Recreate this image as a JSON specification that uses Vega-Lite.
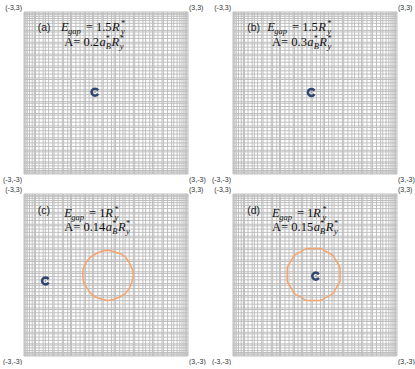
{
  "$schema": "https://vega.github.io/schema/vega-lite/v6.json",
  "background": "white",
  "padding": {"left": 2, "top": 4, "right": 0, "bottom": 0},
  "bounds": "flush",
  "columns": 2,
  "spacing": {"row": 20, "column": 45},
  "config": {"view": {"stroke": null}},
  "datasets": {
    "gx": [{"x":-3},{"x":-2.97},{"x":-2.93},{"x":-2.88},{"x":-2.8},{"x":-2.7},{"x":-2.62},{"x":-2.58},{"x":-2.45},{"x":-2.3},{"x":-2.22},{"x":-2.1},{"x":-1.95},{"x":-1.9},{"x":-1.75},{"x":-1.6},{"x":-1.55},{"x":-1.4},{"x":-1.3},{"x":-1.26},{"x":-1.1},{"x":-0.95},{"x":-0.8},{"x":-0.75},{"x":-0.62},{"x":-0.5},{"x":-0.45},{"x":-0.3},{"x":-0.15},{"x":-0.1},{"x":0.05},{"x":0.2},{"x":0.3},{"x":0.35},{"x":0.5},{"x":0.62},{"x":0.7},{"x":0.85},{"x":1.0},{"x":1.05},{"x":1.2},{"x":1.35},{"x":1.45},{"x":1.6},{"x":1.7},{"x":1.75},{"x":1.9},{"x":2.05},{"x":2.1},{"x":2.25},{"x":2.4},{"x":2.48},{"x":2.6},{"x":2.7},{"x":2.78},{"x":2.85},{"x":2.9},{"x":2.95},{"x":3}],
    "gy": [{"y":-3},{"y":-2.96},{"y":-2.92},{"y":-2.87},{"y":-2.8},{"y":-2.7},{"y":-2.6},{"y":-2.55},{"y":-2.42},{"y":-2.3},{"y":-2.18},{"y":-2.12},{"y":-1.98},{"y":-1.85},{"y":-1.72},{"y":-1.66},{"y":-1.52},{"y":-1.4},{"y":-1.28},{"y":-1.22},{"y":-1.08},{"y":-0.95},{"y":-0.82},{"y":-0.76},{"y":-0.62},{"y":-0.5},{"y":-0.38},{"y":-0.32},{"y":-0.18},{"y":-0.06},{"y":0.06},{"y":0.12},{"y":0.26},{"y":0.38},{"y":0.5},{"y":0.56},{"y":0.7},{"y":0.82},{"y":0.94},{"y":1.0},{"y":1.14},{"y":1.26},{"y":1.38},{"y":1.44},{"y":1.58},{"y":1.7},{"y":1.82},{"y":1.88},{"y":2.02},{"y":2.14},{"y":2.26},{"y":2.32},{"y":2.46},{"y":2.58},{"y":2.68},{"y":2.76},{"y":2.84},{"y":2.9},{"y":2.95},{"y":3}],
    "corners": [{"x":-3,"y":3,"t":"(-3,3)"},{"x":3,"y":3,"t":"(3,3)"},{"x":-3,"y":-3,"t":"(-3,-3)"},{"x":3,"y":-3,"t":"(3,-3)"}],
    "blue": [
      {"panel":"a","i":0,"x":-0.287,"y":0.095},{"panel":"a","i":1,"x":-0.335,"y":0.143},{"panel":"a","i":2,"x":-0.4,"y":0.16},{"panel":"a","i":3,"x":-0.465,"y":0.143},{"panel":"a","i":4,"x":-0.513,"y":0.095},{"panel":"a","i":5,"x":-0.53,"y":0.03},{"panel":"a","i":6,"x":-0.513,"y":-0.035},{"panel":"a","i":7,"x":-0.465,"y":-0.083},{"panel":"a","i":8,"x":-0.4,"y":-0.1},{"panel":"a","i":9,"x":-0.335,"y":-0.083},{"panel":"a","i":10,"x":-0.287,"y":-0.035},
      {"panel":"b","i":0,"x":-0.017,"y":0.085},{"panel":"b","i":1,"x":-0.065,"y":0.133},{"panel":"b","i":2,"x":-0.13,"y":0.15},{"panel":"b","i":3,"x":-0.195,"y":0.133},{"panel":"b","i":4,"x":-0.243,"y":0.085},{"panel":"b","i":5,"x":-0.26,"y":0.02},{"panel":"b","i":6,"x":-0.243,"y":-0.045},{"panel":"b","i":7,"x":-0.195,"y":-0.093},{"panel":"b","i":8,"x":-0.13,"y":-0.11},{"panel":"b","i":9,"x":-0.065,"y":-0.093},{"panel":"b","i":10,"x":-0.017,"y":-0.045},
      {"panel":"c","i":0,"x":-2.097,"y":-0.155},{"panel":"c","i":1,"x":-2.145,"y":-0.107},{"panel":"c","i":2,"x":-2.21,"y":-0.09},{"panel":"c","i":3,"x":-2.275,"y":-0.107},{"panel":"c","i":4,"x":-2.323,"y":-0.155},{"panel":"c","i":5,"x":-2.34,"y":-0.22},{"panel":"c","i":6,"x":-2.323,"y":-0.285},{"panel":"c","i":7,"x":-2.275,"y":-0.333},{"panel":"c","i":8,"x":-2.21,"y":-0.35},{"panel":"c","i":9,"x":-2.145,"y":-0.333},{"panel":"c","i":10,"x":-2.097,"y":-0.285},
      {"panel":"d","i":0,"x":0.143,"y":0.025},{"panel":"d","i":1,"x":0.095,"y":0.073},{"panel":"d","i":2,"x":0.03,"y":0.09},{"panel":"d","i":3,"x":-0.035,"y":0.073},{"panel":"d","i":4,"x":-0.083,"y":0.025},{"panel":"d","i":5,"x":-0.1,"y":-0.04},{"panel":"d","i":6,"x":-0.083,"y":-0.105},{"panel":"d","i":7,"x":-0.035,"y":-0.153},{"panel":"d","i":8,"x":0.03,"y":-0.17},{"panel":"d","i":9,"x":0.095,"y":-0.153},{"panel":"d","i":10,"x":0.143,"y":-0.105}
    ],
    "centers": [{"panel":"a","x":-0.4,"y":0.03},{"panel":"b","x":-0.13,"y":0.02},{"panel":"c","x":-2.21,"y":-0.22},{"panel":"d","x":0.03,"y":-0.04}],
    "orange": [
      {"panel":"c","i":0,"x":1.0,"y":-0.01},{"panel":"c","i":1,"x":0.959,"y":0.228},{"panel":"c","i":2,"x":0.858,"y":0.445},{"panel":"c","i":3,"x":0.728,"y":0.648},{"panel":"c","i":4,"x":0.53,"y":0.787},{"panel":"c","i":5,"x":0.303,"y":0.859},{"panel":"c","i":6,"x":0.07,"y":0.92},{"panel":"c","i":7,"x":-0.168,"y":0.879},{"panel":"c","i":8,"x":-0.385,"y":0.778},{"panel":"c","i":9,"x":-0.588,"y":0.648},{"panel":"c","i":10,"x":-0.727,"y":0.45},{"panel":"c","i":11,"x":-0.838,"y":0.233},{"panel":"c","i":12,"x":-0.85,"y":-0.01},{"panel":"c","i":13,"x":-0.828,"y":-0.251},{"panel":"c","i":14,"x":-0.709,"y":-0.46},{"panel":"c","i":15,"x":-0.58,"y":-0.66},{"panel":"c","i":16,"x":-0.395,"y":-0.815},{"panel":"c","i":17,"x":-0.166,"y":-0.889},{"panel":"c","i":18,"x":0.07,"y":-0.94},{"panel":"c","i":19,"x":0.308,"y":-0.899},{"panel":"c","i":20,"x":0.525,"y":-0.798},{"panel":"c","i":21,"x":0.728,"y":-0.668},{"panel":"c","i":22,"x":0.867,"y":-0.47},{"panel":"c","i":23,"x":0.949,"y":-0.246},{"panel":"c","i":24,"x":1.0,"y":-0.01},
      {"panel":"d","i":0,"x":0.916,"y":0.279},{"panel":"d","i":1,"x":0.657,"y":0.727},{"panel":"d","i":2,"x":0.209,"y":0.986},{"panel":"d","i":3,"x":-0.309,"y":0.986},{"panel":"d","i":4,"x":-0.757,"y":0.727},{"panel":"d","i":5,"x":-1.016,"y":0.279},{"panel":"d","i":6,"x":-1.016,"y":-0.239},{"panel":"d","i":7,"x":-0.757,"y":-0.687},{"panel":"d","i":8,"x":-0.309,"y":-0.946},{"panel":"d","i":9,"x":0.209,"y":-0.946},{"panel":"d","i":10,"x":0.657,"y":-0.687},{"panel":"d","i":11,"x":0.916,"y":-0.239},{"panel":"d","i":12,"x":0.916,"y":0.279}
    ],
    "tlabel": [{"panel":"a","x":-2.5,"y":2.31,"t":"(a)"},{"panel":"b","x":-2.48,"y":2.31,"t":"(b)"},{"panel":"c","x":-2.5,"y":2.26,"t":"(c)"},{"panel":"d","x":-2.48,"y":2.26,"t":"(d)"}],
    "troman": [
      {"panel":"a","x":-0.741,"y":2.31,"t":"= 1.5"},{"panel":"a","x":-1.53,"y":1.74,"t":"A= 0.2"},
      {"panel":"b","x":-0.841,"y":2.31,"t":"= 1.5"},{"panel":"b","x":-1.57,"y":1.74,"t":"A= 0.3"},
      {"panel":"c","x":-0.621,"y":2.16,"t":"= 1"},{"panel":"c","x":-1.53,"y":1.63,"t":"A= 0.14"},
      {"panel":"d","x":-0.661,"y":2.16,"t":"= 1"},{"panel":"d","x":-1.57,"y":1.63,"t":"A= 0.15"}
    ],
    "titalic": [
      {"panel":"a","x":-1.65,"y":2.31,"t":"E"},{"panel":"a","x":0.22,"y":2.31,"t":"R"},{"panel":"a","x":-0.24,"y":1.74,"t":"a"},{"panel":"a","x":0.2,"y":1.74,"t":"R"},
      {"panel":"b","x":-1.75,"y":2.31,"t":"E"},{"panel":"b","x":0.12,"y":2.31,"t":"R"},{"panel":"b","x":-0.28,"y":1.74,"t":"a"},{"panel":"b","x":0.16,"y":1.74,"t":"R"},
      {"panel":"c","x":-1.53,"y":2.16,"t":"E"},{"panel":"c","x":-0.03,"y":2.16,"t":"R"},{"panel":"c","x":-0.005,"y":1.63,"t":"a"},{"panel":"c","x":0.435,"y":1.63,"t":"R"},
      {"panel":"d","x":-1.57,"y":2.16,"t":"E"},{"panel":"d","x":-0.07,"y":2.16,"t":"R"},{"panel":"d","x":-0.045,"y":1.63,"t":"a"},{"panel":"d","x":0.395,"y":1.63,"t":"R"}
    ],
    "tsub": [
      {"panel":"a","x":-1.388,"y":2.31,"t":"gap"},{"panel":"a","x":0.55,"y":2.31,"t":"y"},{"panel":"a","x":-0.01,"y":1.74,"t":"B"},{"panel":"a","x":0.5,"y":1.74,"t":"y"},
      {"panel":"b","x":-1.488,"y":2.31,"t":"gap"},{"panel":"b","x":0.45,"y":2.31,"t":"y"},{"panel":"b","x":-0.05,"y":1.74,"t":"B"},{"panel":"b","x":0.46,"y":1.74,"t":"y"},
      {"panel":"c","x":-1.268,"y":2.16,"t":"gap"},{"panel":"c","x":0.31,"y":2.16,"t":"y"},{"panel":"c","x":0.225,"y":1.63,"t":"B"},{"panel":"c","x":0.735,"y":1.63,"t":"y"},
      {"panel":"d","x":-1.308,"y":2.16,"t":"gap"},{"panel":"d","x":0.27,"y":2.16,"t":"y"},{"panel":"d","x":0.185,"y":1.63,"t":"B"},{"panel":"d","x":0.695,"y":1.63,"t":"y"}
    ],
    "tsup": [
      {"panel":"a","x":0.55,"y":2.31,"t":"*"},{"panel":"a","x":-0.01,"y":1.74,"t":"*"},{"panel":"a","x":0.5,"y":1.74,"t":"*"},
      {"panel":"b","x":0.45,"y":2.31,"t":"*"},{"panel":"b","x":-0.05,"y":1.74,"t":"*"},{"panel":"b","x":0.46,"y":1.74,"t":"*"},
      {"panel":"c","x":0.31,"y":2.16,"t":"*"},{"panel":"c","x":0.225,"y":1.63,"t":"*"},{"panel":"c","x":0.735,"y":1.63,"t":"*"},
      {"panel":"d","x":0.27,"y":2.16,"t":"*"},{"panel":"d","x":0.185,"y":1.63,"t":"*"},{"panel":"d","x":0.695,"y":1.63,"t":"*"}
    ]
  },
  "concat": [
    {"width":164,"height":162,"layer":[
      {"data":{"name":"gx"},"mark":{"type":"rule","color":"#bfbfbf","strokeWidth":1},"encoding":{"x":{"field":"x","type":"quantitative","scale":{"domain":[-3,3],"nice":false},"axis":null}}},
      {"data":{"name":"gy"},"mark":{"type":"rule","color":"#bfbfbf","strokeWidth":1},"encoding":{"y":{"field":"y","type":"quantitative","scale":{"domain":[-3,3],"nice":false},"axis":null}}},
      {"data":{"name":"orange"},"transform":[{"filter":"datum.panel == 'a'"}],"mark":{"type":"line","color":"#f4a46c","strokeWidth":1.5},"encoding":{"x":{"field":"x","type":"quantitative"},"y":{"field":"y","type":"quantitative"},"order":{"field":"i"}}},
      {"data":{"name":"blue"},"transform":[{"filter":"datum.panel == 'a'"}],"mark":{"type":"line","color":"#2f476e","strokeWidth":2.5,"strokeCap":"butt"},"encoding":{"x":{"field":"x","type":"quantitative"},"y":{"field":"y","type":"quantitative"},"order":{"field":"i"}}},
      {"data":{"name":"centers"},"transform":[{"filter":"datum.panel == 'a'"}],"mark":{"type":"point","filled":true,"size":3,"color":"#888888"},"encoding":{"x":{"field":"x","type":"quantitative"},"y":{"field":"y","type":"quantitative"}}},
      {"data":{"name":"corners"},"transform":[{"filter":"datum.x < 0 && datum.y > 0"}],"mark":{"type":"text","align":"right","baseline":"bottom","dx":-2,"dy":-1,"font":"Liberation Sans","fontSize":7,"color":"#333333"},"encoding":{"x":{"field":"x","type":"quantitative"},"y":{"field":"y","type":"quantitative"},"text":{"field":"t"}}},
      {"data":{"name":"corners"},"transform":[{"filter":"datum.x > 0 && datum.y > 0"}],"mark":{"type":"text","align":"left","baseline":"bottom","dx":1,"dy":-1,"font":"Liberation Sans","fontSize":7,"color":"#333333"},"encoding":{"x":{"field":"x","type":"quantitative"},"y":{"field":"y","type":"quantitative"},"text":{"field":"t"}}},
      {"data":{"name":"corners"},"transform":[{"filter":"datum.x < 0 && datum.y < 0"}],"mark":{"type":"text","align":"right","baseline":"top","dx":-2,"dy":2,"font":"Liberation Sans","fontSize":7,"color":"#333333"},"encoding":{"x":{"field":"x","type":"quantitative"},"y":{"field":"y","type":"quantitative"},"text":{"field":"t"}}},
      {"data":{"name":"corners"},"transform":[{"filter":"datum.x > 0 && datum.y < 0"}],"mark":{"type":"text","align":"left","baseline":"top","dx":1,"dy":2,"font":"Liberation Sans","fontSize":7,"color":"#333333"},"encoding":{"x":{"field":"x","type":"quantitative"},"y":{"field":"y","type":"quantitative"},"text":{"field":"t"}}},
      {"data":{"name":"tlabel"},"transform":[{"filter":"datum.panel == 'a'"}],"mark":{"type":"text","align":"left","baseline":"alphabetic","font":"Liberation Sans","fontSize":10.5,"color":"#222222"},"encoding":{"x":{"field":"x","type":"quantitative"},"y":{"field":"y","type":"quantitative"},"text":{"field":"t"}}},
      {"data":{"name":"troman"},"transform":[{"filter":"datum.panel == 'a'"}],"mark":{"type":"text","align":"left","baseline":"alphabetic","font":"Liberation Serif","fontSize":12.5,"color":"#111111"},"encoding":{"x":{"field":"x","type":"quantitative"},"y":{"field":"y","type":"quantitative"},"text":{"field":"t"}}},
      {"data":{"name":"titalic"},"transform":[{"filter":"datum.panel == 'a'"}],"mark":{"type":"text","align":"left","baseline":"alphabetic","font":"Liberation Serif","fontStyle":"italic","fontSize":12.5,"color":"#111111"},"encoding":{"x":{"field":"x","type":"quantitative"},"y":{"field":"y","type":"quantitative"},"text":{"field":"t"}}},
      {"data":{"name":"tsub"},"transform":[{"filter":"datum.panel == 'a'"}],"mark":{"type":"text","align":"left","baseline":"alphabetic","dy":3,"font":"Liberation Serif","fontStyle":"italic","fontSize":8.5,"color":"#111111"},"encoding":{"x":{"field":"x","type":"quantitative"},"y":{"field":"y","type":"quantitative"},"text":{"field":"t"}}},
      {"data":{"name":"tsup"},"transform":[{"filter":"datum.panel == 'a'"}],"mark":{"type":"text","align":"left","baseline":"alphabetic","dy":-5,"font":"Liberation Serif","fontSize":8.5,"color":"#111111"},"encoding":{"x":{"field":"x","type":"quantitative"},"y":{"field":"y","type":"quantitative"},"text":{"field":"t"}}}
    ]},
    {"width":164,"height":162,"layer":[
      {"data":{"name":"gx"},"mark":{"type":"rule","color":"#bfbfbf","strokeWidth":1},"encoding":{"x":{"field":"x","type":"quantitative","scale":{"domain":[-3,3],"nice":false},"axis":null}}},
      {"data":{"name":"gy"},"mark":{"type":"rule","color":"#bfbfbf","strokeWidth":1},"encoding":{"y":{"field":"y","type":"quantitative","scale":{"domain":[-3,3],"nice":false},"axis":null}}},
      {"data":{"name":"orange"},"transform":[{"filter":"datum.panel == 'b'"}],"mark":{"type":"line","color":"#f4a46c","strokeWidth":1.5},"encoding":{"x":{"field":"x","type":"quantitative"},"y":{"field":"y","type":"quantitative"},"order":{"field":"i"}}},
      {"data":{"name":"blue"},"transform":[{"filter":"datum.panel == 'b'"}],"mark":{"type":"line","color":"#2f476e","strokeWidth":2.5,"strokeCap":"butt"},"encoding":{"x":{"field":"x","type":"quantitative"},"y":{"field":"y","type":"quantitative"},"order":{"field":"i"}}},
      {"data":{"name":"centers"},"transform":[{"filter":"datum.panel == 'b'"}],"mark":{"type":"point","filled":true,"size":3,"color":"#888888"},"encoding":{"x":{"field":"x","type":"quantitative"},"y":{"field":"y","type":"quantitative"}}},
      {"data":{"name":"corners"},"transform":[{"filter":"datum.x < 0 && datum.y > 0"}],"mark":{"type":"text","align":"right","baseline":"bottom","dx":-2,"dy":-1,"font":"Liberation Sans","fontSize":7,"color":"#333333"},"encoding":{"x":{"field":"x","type":"quantitative"},"y":{"field":"y","type":"quantitative"},"text":{"field":"t"}}},
      {"data":{"name":"corners"},"transform":[{"filter":"datum.x > 0 && datum.y > 0"}],"mark":{"type":"text","align":"left","baseline":"bottom","dx":1,"dy":-1,"font":"Liberation Sans","fontSize":7,"color":"#333333"},"encoding":{"x":{"field":"x","type":"quantitative"},"y":{"field":"y","type":"quantitative"},"text":{"field":"t"}}},
      {"data":{"name":"corners"},"transform":[{"filter":"datum.x < 0 && datum.y < 0"}],"mark":{"type":"text","align":"right","baseline":"top","dx":-2,"dy":2,"font":"Liberation Sans","fontSize":7,"color":"#333333"},"encoding":{"x":{"field":"x","type":"quantitative"},"y":{"field":"y","type":"quantitative"},"text":{"field":"t"}}},
      {"data":{"name":"corners"},"transform":[{"filter":"datum.x > 0 && datum.y < 0"}],"mark":{"type":"text","align":"left","baseline":"top","dx":1,"dy":2,"font":"Liberation Sans","fontSize":7,"color":"#333333"},"encoding":{"x":{"field":"x","type":"quantitative"},"y":{"field":"y","type":"quantitative"},"text":{"field":"t"}}},
      {"data":{"name":"tlabel"},"transform":[{"filter":"datum.panel == 'b'"}],"mark":{"type":"text","align":"left","baseline":"alphabetic","font":"Liberation Sans","fontSize":10.5,"color":"#222222"},"encoding":{"x":{"field":"x","type":"quantitative"},"y":{"field":"y","type":"quantitative"},"text":{"field":"t"}}},
      {"data":{"name":"troman"},"transform":[{"filter":"datum.panel == 'b'"}],"mark":{"type":"text","align":"left","baseline":"alphabetic","font":"Liberation Serif","fontSize":12.5,"color":"#111111"},"encoding":{"x":{"field":"x","type":"quantitative"},"y":{"field":"y","type":"quantitative"},"text":{"field":"t"}}},
      {"data":{"name":"titalic"},"transform":[{"filter":"datum.panel == 'b'"}],"mark":{"type":"text","align":"left","baseline":"alphabetic","font":"Liberation Serif","fontStyle":"italic","fontSize":12.5,"color":"#111111"},"encoding":{"x":{"field":"x","type":"quantitative"},"y":{"field":"y","type":"quantitative"},"text":{"field":"t"}}},
      {"data":{"name":"tsub"},"transform":[{"filter":"datum.panel == 'b'"}],"mark":{"type":"text","align":"left","baseline":"alphabetic","dy":3,"font":"Liberation Serif","fontStyle":"italic","fontSize":8.5,"color":"#111111"},"encoding":{"x":{"field":"x","type":"quantitative"},"y":{"field":"y","type":"quantitative"},"text":{"field":"t"}}},
      {"data":{"name":"tsup"},"transform":[{"filter":"datum.panel == 'b'"}],"mark":{"type":"text","align":"left","baseline":"alphabetic","dy":-5,"font":"Liberation Serif","fontSize":8.5,"color":"#111111"},"encoding":{"x":{"field":"x","type":"quantitative"},"y":{"field":"y","type":"quantitative"},"text":{"field":"t"}}}
    ]},
    {"width":164,"height":162,"layer":[
      {"data":{"name":"gx"},"mark":{"type":"rule","color":"#bfbfbf","strokeWidth":1},"encoding":{"x":{"field":"x","type":"quantitative","scale":{"domain":[-3,3],"nice":false},"axis":null}}},
      {"data":{"name":"gy"},"mark":{"type":"rule","color":"#bfbfbf","strokeWidth":1},"encoding":{"y":{"field":"y","type":"quantitative","scale":{"domain":[-3,3],"nice":false},"axis":null}}},
      {"data":{"name":"orange"},"transform":[{"filter":"datum.panel == 'c'"}],"mark":{"type":"line","color":"#f4a46c","strokeWidth":1.5},"encoding":{"x":{"field":"x","type":"quantitative"},"y":{"field":"y","type":"quantitative"},"order":{"field":"i"}}},
      {"data":{"name":"blue"},"transform":[{"filter":"datum.panel == 'c'"}],"mark":{"type":"line","color":"#2f476e","strokeWidth":2.5,"strokeCap":"butt"},"encoding":{"x":{"field":"x","type":"quantitative"},"y":{"field":"y","type":"quantitative"},"order":{"field":"i"}}},
      {"data":{"name":"centers"},"transform":[{"filter":"datum.panel == 'c'"}],"mark":{"type":"point","filled":true,"size":3,"color":"#888888"},"encoding":{"x":{"field":"x","type":"quantitative"},"y":{"field":"y","type":"quantitative"}}},
      {"data":{"name":"corners"},"transform":[{"filter":"datum.x < 0 && datum.y > 0"}],"mark":{"type":"text","align":"right","baseline":"bottom","dx":-2,"dy":-1,"font":"Liberation Sans","fontSize":7,"color":"#333333"},"encoding":{"x":{"field":"x","type":"quantitative"},"y":{"field":"y","type":"quantitative"},"text":{"field":"t"}}},
      {"data":{"name":"corners"},"transform":[{"filter":"datum.x > 0 && datum.y > 0"}],"mark":{"type":"text","align":"left","baseline":"bottom","dx":1,"dy":-1,"font":"Liberation Sans","fontSize":7,"color":"#333333"},"encoding":{"x":{"field":"x","type":"quantitative"},"y":{"field":"y","type":"quantitative"},"text":{"field":"t"}}},
      {"data":{"name":"corners"},"transform":[{"filter":"datum.x < 0 && datum.y < 0"}],"mark":{"type":"text","align":"right","baseline":"top","dx":-2,"dy":2,"font":"Liberation Sans","fontSize":7,"color":"#333333"},"encoding":{"x":{"field":"x","type":"quantitative"},"y":{"field":"y","type":"quantitative"},"text":{"field":"t"}}},
      {"data":{"name":"corners"},"transform":[{"filter":"datum.x > 0 && datum.y < 0"}],"mark":{"type":"text","align":"left","baseline":"top","dx":1,"dy":2,"font":"Liberation Sans","fontSize":7,"color":"#333333"},"encoding":{"x":{"field":"x","type":"quantitative"},"y":{"field":"y","type":"quantitative"},"text":{"field":"t"}}},
      {"data":{"name":"tlabel"},"transform":[{"filter":"datum.panel == 'c'"}],"mark":{"type":"text","align":"left","baseline":"alphabetic","font":"Liberation Sans","fontSize":10.5,"color":"#222222"},"encoding":{"x":{"field":"x","type":"quantitative"},"y":{"field":"y","type":"quantitative"},"text":{"field":"t"}}},
      {"data":{"name":"troman"},"transform":[{"filter":"datum.panel == 'c'"}],"mark":{"type":"text","align":"left","baseline":"alphabetic","font":"Liberation Serif","fontSize":12.5,"color":"#111111"},"encoding":{"x":{"field":"x","type":"quantitative"},"y":{"field":"y","type":"quantitative"},"text":{"field":"t"}}},
      {"data":{"name":"titalic"},"transform":[{"filter":"datum.panel == 'c'"}],"mark":{"type":"text","align":"left","baseline":"alphabetic","font":"Liberation Serif","fontStyle":"italic","fontSize":12.5,"color":"#111111"},"encoding":{"x":{"field":"x","type":"quantitative"},"y":{"field":"y","type":"quantitative"},"text":{"field":"t"}}},
      {"data":{"name":"tsub"},"transform":[{"filter":"datum.panel == 'c'"}],"mark":{"type":"text","align":"left","baseline":"alphabetic","dy":3,"font":"Liberation Serif","fontStyle":"italic","fontSize":8.5,"color":"#111111"},"encoding":{"x":{"field":"x","type":"quantitative"},"y":{"field":"y","type":"quantitative"},"text":{"field":"t"}}},
      {"data":{"name":"tsup"},"transform":[{"filter":"datum.panel == 'c'"}],"mark":{"type":"text","align":"left","baseline":"alphabetic","dy":-5,"font":"Liberation Serif","fontSize":8.5,"color":"#111111"},"encoding":{"x":{"field":"x","type":"quantitative"},"y":{"field":"y","type":"quantitative"},"text":{"field":"t"}}}
    ]},
    {"width":164,"height":162,"layer":[
      {"data":{"name":"gx"},"mark":{"type":"rule","color":"#bfbfbf","strokeWidth":1},"encoding":{"x":{"field":"x","type":"quantitative","scale":{"domain":[-3,3],"nice":false},"axis":null}}},
      {"data":{"name":"gy"},"mark":{"type":"rule","color":"#bfbfbf","strokeWidth":1},"encoding":{"y":{"field":"y","type":"quantitative","scale":{"domain":[-3,3],"nice":false},"axis":null}}},
      {"data":{"name":"orange"},"transform":[{"filter":"datum.panel == 'd'"}],"mark":{"type":"line","color":"#f4a46c","strokeWidth":1.5},"encoding":{"x":{"field":"x","type":"quantitative"},"y":{"field":"y","type":"quantitative"},"order":{"field":"i"}}},
      {"data":{"name":"blue"},"transform":[{"filter":"datum.panel == 'd'"}],"mark":{"type":"line","color":"#2f476e","strokeWidth":2.5,"strokeCap":"butt"},"encoding":{"x":{"field":"x","type":"quantitative"},"y":{"field":"y","type":"quantitative"},"order":{"field":"i"}}},
      {"data":{"name":"centers"},"transform":[{"filter":"datum.panel == 'd'"}],"mark":{"type":"point","filled":true,"size":3,"color":"#888888"},"encoding":{"x":{"field":"x","type":"quantitative"},"y":{"field":"y","type":"quantitative"}}},
      {"data":{"name":"corners"},"transform":[{"filter":"datum.x < 0 && datum.y > 0"}],"mark":{"type":"text","align":"right","baseline":"bottom","dx":-2,"dy":-1,"font":"Liberation Sans","fontSize":7,"color":"#333333"},"encoding":{"x":{"field":"x","type":"quantitative"},"y":{"field":"y","type":"quantitative"},"text":{"field":"t"}}},
      {"data":{"name":"corners"},"transform":[{"filter":"datum.x > 0 && datum.y > 0"}],"mark":{"type":"text","align":"left","baseline":"bottom","dx":1,"dy":-1,"font":"Liberation Sans","fontSize":7,"color":"#333333"},"encoding":{"x":{"field":"x","type":"quantitative"},"y":{"field":"y","type":"quantitative"},"text":{"field":"t"}}},
      {"data":{"name":"corners"},"transform":[{"filter":"datum.x < 0 && datum.y < 0"}],"mark":{"type":"text","align":"right","baseline":"top","dx":-2,"dy":2,"font":"Liberation Sans","fontSize":7,"color":"#333333"},"encoding":{"x":{"field":"x","type":"quantitative"},"y":{"field":"y","type":"quantitative"},"text":{"field":"t"}}},
      {"data":{"name":"corners"},"transform":[{"filter":"datum.x > 0 && datum.y < 0"}],"mark":{"type":"text","align":"left","baseline":"top","dx":1,"dy":2,"font":"Liberation Sans","fontSize":7,"color":"#333333"},"encoding":{"x":{"field":"x","type":"quantitative"},"y":{"field":"y","type":"quantitative"},"text":{"field":"t"}}},
      {"data":{"name":"tlabel"},"transform":[{"filter":"datum.panel == 'd'"}],"mark":{"type":"text","align":"left","baseline":"alphabetic","font":"Liberation Sans","fontSize":10.5,"color":"#222222"},"encoding":{"x":{"field":"x","type":"quantitative"},"y":{"field":"y","type":"quantitative"},"text":{"field":"t"}}},
      {"data":{"name":"troman"},"transform":[{"filter":"datum.panel == 'd'"}],"mark":{"type":"text","align":"left","baseline":"alphabetic","font":"Liberation Serif","fontSize":12.5,"color":"#111111"},"encoding":{"x":{"field":"x","type":"quantitative"},"y":{"field":"y","type":"quantitative"},"text":{"field":"t"}}},
      {"data":{"name":"titalic"},"transform":[{"filter":"datum.panel == 'd'"}],"mark":{"type":"text","align":"left","baseline":"alphabetic","font":"Liberation Serif","fontStyle":"italic","fontSize":12.5,"color":"#111111"},"encoding":{"x":{"field":"x","type":"quantitative"},"y":{"field":"y","type":"quantitative"},"text":{"field":"t"}}},
      {"data":{"name":"tsub"},"transform":[{"filter":"datum.panel == 'd'"}],"mark":{"type":"text","align":"left","baseline":"alphabetic","dy":3,"font":"Liberation Serif","fontStyle":"italic","fontSize":8.5,"color":"#111111"},"encoding":{"x":{"field":"x","type":"quantitative"},"y":{"field":"y","type":"quantitative"},"text":{"field":"t"}}},
      {"data":{"name":"tsup"},"transform":[{"filter":"datum.panel == 'd'"}],"mark":{"type":"text","align":"left","baseline":"alphabetic","dy":-5,"font":"Liberation Serif","fontSize":8.5,"color":"#111111"},"encoding":{"x":{"field":"x","type":"quantitative"},"y":{"field":"y","type":"quantitative"},"text":{"field":"t"}}}
    ]}
  ]
}
